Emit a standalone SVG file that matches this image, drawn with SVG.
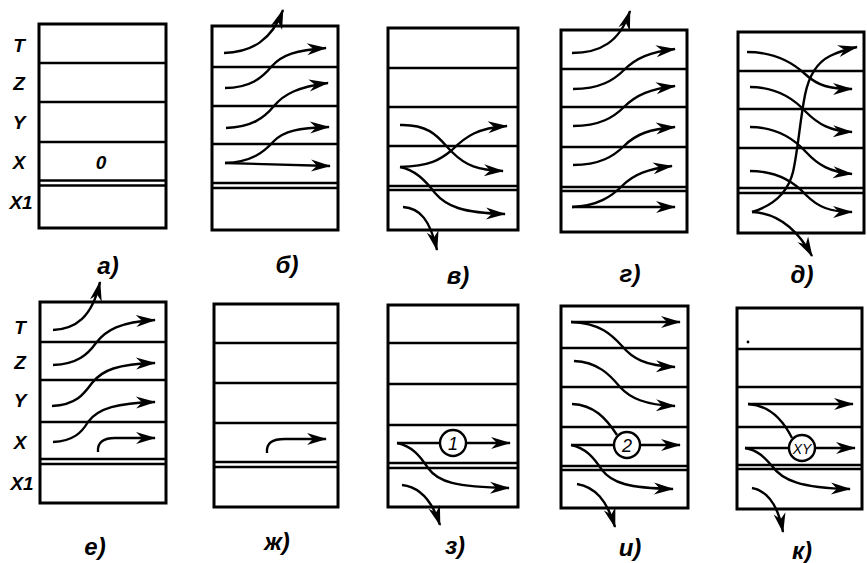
<svg xmlns="http://www.w3.org/2000/svg" width="867" height="563" viewBox="0 0 867 563">
<defs>
<style>
.frame{fill:none;stroke:#000;stroke-width:3}
.ln{stroke:#000;stroke-width:2.6}
.lbl{font-family:"Liberation Sans",Arial,sans-serif;font-style:italic;font-weight:bold;font-size:19px;text-anchor:middle;fill:#000}
.cap{font-family:"Liberation Sans",Arial,sans-serif;font-style:italic;font-weight:bold;font-size:24px;text-anchor:middle;fill:#000}
.num{font-family:"Liberation Sans",Arial,sans-serif;font-style:italic;font-size:18px;text-anchor:middle;fill:#000}
.ar{fill:none;stroke:#000;stroke-width:2.4;marker-end:url(#ah)}
.pl{fill:none;stroke:#000;stroke-width:2.4}
.node{fill:#fff;stroke:#000;stroke-width:2.4}
</style>
<marker id="ah" markerUnits="userSpaceOnUse" viewBox="-20 -7 22 14" markerWidth="22" markerHeight="14" refX="0" refY="0" orient="auto">
<path d="M1,0 L-19,-6 L-13,0 L-19,6 Z" fill="#000"/>
</marker>
</defs>
<rect width="867" height="563" fill="#fff"/>

<g id="panel-a">
<rect class="frame" x="39" y="24" width="127" height="204"/>
<line class="ln" x1="39" y1="63" x2="166" y2="63"/>
<line class="ln" x1="39" y1="102" x2="166" y2="102"/>
<line class="ln" x1="39" y1="142" x2="166" y2="142"/>
<line class="ln" x1="39" y1="180.5" x2="166" y2="180.5"/>
<line class="ln" x1="39" y1="185.5" x2="166" y2="185.5"/>
<text class="lbl" x="19" y="52">T</text>
<text class="lbl" x="19" y="90">Z</text>
<text class="lbl" x="19" y="129">Y</text>
<text class="lbl" x="19" y="169">X</text>
<text class="lbl" x="21" y="209">X1</text>
<text class="lbl" x="101" y="169">0</text>
<text class="cap" x="108" y="274">а)</text>
</g>

<g id="panel-b">
<rect class="frame" x="212" y="26" width="126" height="204"/>
<line class="ln" x1="212" y1="67" x2="338" y2="67"/>
<line class="ln" x1="212" y1="106" x2="338" y2="106"/>
<line class="ln" x1="212" y1="144" x2="338" y2="144"/>
<line class="ln" x1="212" y1="183" x2="338" y2="183"/>
<line class="ln" x1="212" y1="188" x2="338" y2="188"/>
<text class="cap" x="287" y="273">б)</text>
</g>

<g id="panel-v">
<rect class="frame" x="388" y="28" width="130" height="202"/>
<line class="ln" x1="388" y1="68" x2="518" y2="68"/>
<line class="ln" x1="388" y1="107" x2="518" y2="107"/>
<line class="ln" x1="388" y1="146" x2="518" y2="146"/>
<line class="ln" x1="388" y1="186" x2="518" y2="186"/>
<line class="ln" x1="388" y1="190" x2="518" y2="190"/>
<text class="cap" x="458" y="284">в)</text>
</g>

<g id="panel-g">
<rect class="frame" x="561" y="30" width="126" height="202"/>
<line class="ln" x1="561" y1="69" x2="687" y2="69"/>
<line class="ln" x1="561" y1="107" x2="687" y2="107"/>
<line class="ln" x1="561" y1="147" x2="687" y2="147"/>
<line class="ln" x1="561" y1="187" x2="687" y2="187"/>
<line class="ln" x1="561" y1="191" x2="687" y2="191"/>
<text class="cap" x="630" y="282">г)</text>
</g>

<g id="panel-d">
<rect class="frame" x="738" y="32" width="126" height="201"/>
<line class="ln" x1="738" y1="71" x2="864" y2="71"/>
<line class="ln" x1="738" y1="109" x2="864" y2="109"/>
<line class="ln" x1="738" y1="148" x2="864" y2="148"/>
<line class="ln" x1="738" y1="188" x2="864" y2="188"/>
<line class="ln" x1="738" y1="193" x2="864" y2="193"/>
<text class="cap" x="802" y="283">д)</text>
</g>

<g id="panel-e">
<rect class="frame" x="40" y="302" width="126" height="201"/>
<line class="ln" x1="40" y1="342" x2="166" y2="342"/>
<line class="ln" x1="40" y1="380" x2="166" y2="380"/>
<line class="ln" x1="40" y1="422" x2="166" y2="422"/>
<line class="ln" x1="40" y1="459" x2="166" y2="459"/>
<line class="ln" x1="40" y1="464" x2="166" y2="464"/>
<text class="lbl" x="20" y="334">T</text>
<text class="lbl" x="20" y="369">Z</text>
<text class="lbl" x="20" y="407">Y</text>
<text class="lbl" x="20" y="449">X</text>
<text class="lbl" x="22" y="490">X1</text>
<text class="cap" x="95" y="555">е)</text>
</g>

<g id="panel-zh">
<rect class="frame" x="214" y="304" width="124" height="203"/>
<line class="ln" x1="214" y1="343" x2="338" y2="343"/>
<line class="ln" x1="214" y1="383" x2="338" y2="383"/>
<line class="ln" x1="214" y1="423" x2="338" y2="423"/>
<line class="ln" x1="214" y1="462" x2="338" y2="462"/>
<line class="ln" x1="214" y1="467" x2="338" y2="467"/>
<text class="cap" x="277" y="550">ж)</text>
</g>

<g id="panel-z">
<rect class="frame" x="388" y="305" width="130" height="202"/>
<line class="ln" x1="388" y1="343" x2="518" y2="343"/>
<line class="ln" x1="388" y1="384" x2="518" y2="384"/>
<line class="ln" x1="388" y1="425" x2="518" y2="425"/>
<line class="ln" x1="388" y1="463" x2="518" y2="463"/>
<line class="ln" x1="388" y1="468" x2="518" y2="468"/>
<text class="cap" x="455" y="554">з)</text>
</g>

<g id="panel-i">
<rect class="frame" x="561" y="306" width="127" height="202"/>
<line class="ln" x1="561" y1="348" x2="688" y2="348"/>
<line class="ln" x1="561" y1="387" x2="688" y2="387"/>
<line class="ln" x1="561" y1="427" x2="688" y2="427"/>
<line class="ln" x1="561" y1="466" x2="688" y2="466"/>
<line class="ln" x1="561" y1="470" x2="688" y2="470"/>
<text class="cap" x="630" y="556">и)</text>
</g>

<g id="panel-k">
<rect class="frame" x="737" y="308" width="125" height="201"/>
<line class="ln" x1="737" y1="349" x2="862" y2="349"/>
<line class="ln" x1="737" y1="387" x2="862" y2="387"/>
<line class="ln" x1="737" y1="427" x2="862" y2="427"/>
<line class="ln" x1="737" y1="465" x2="862" y2="465"/>
<line class="ln" x1="737" y1="469" x2="862" y2="469"/>
<circle cx="748" cy="342" r="1.4" fill="#000"/>
<text class="cap" x="802" y="559">к)</text>
</g>

<g id="connectors">
<!-- б -->
<path class="ar" d="M224,53 C252,52 272,40 283,10"/>
<path class="ar" d="M225,88 C250,88 262,78 272,66 C282,55 296,50 326,48"/>
<path class="ar" d="M226,128 C252,127 264,118 274,106 C284,94 298,87 328,83"/>
<path class="ar" d="M225,163 C252,162 264,152 274,141 C284,131 298,128 329,127"/>
<path class="ar" d="M225,163 L330,166"/>
<!-- в -->
<path class="ar" d="M400,125 C432,124 440,140 452,152 C466,166 478,170 503,171"/>
<path class="ar" d="M400,167 C430,166 440,160 452,150 C466,136 478,128 507,126"/>
<path class="ar" d="M400,167 C415,170 425,180 435,193 C446,206 462,213 505,214"/>
<path class="ar" d="M403,207 C420,208 430,220 437,250"/>
<!-- г -->
<path class="ar" d="M572,53 C600,53 620,42 630,11"/>
<path class="ar" d="M573,89 C600,89 614,80 624,70 C636,58 650,52 675,49"/>
<path class="ar" d="M573,126 C600,126 614,117 624,107 C636,95 650,89 675,86"/>
<path class="ar" d="M573,165 C600,165 614,156 624,146 C636,134 650,129 675,127"/>
<path class="ar" d="M572,207 C598,206 612,196 622,186 C634,174 648,169 672,166"/>
<path class="ar" d="M572,207 L675,207"/>
<!-- д -->
<path class="ar" d="M747,52 C775,52 792,62 805,74 C818,86 830,89 852,89"/>
<path class="ar" d="M750,87 C778,87 795,100 806,112 C818,124 830,131 852,132"/>
<path class="ar" d="M750,127 C778,127 795,140 806,152 C818,165 830,172 852,174"/>
<path class="ar" d="M750,171 C778,171 795,183 806,195 C818,207 830,212 852,212"/>
<path class="ar" d="M752,212 C775,205 788,192 793,172 C798,150 800,120 805,95 C809,75 818,62 830,56 C840,51 848,49 857,47"/>
<path class="ar" d="M752,212 C775,213 795,225 812,256"/>
<!-- е -->
<path class="ar" d="M53,330 C75,329 92,318 100,282"/>
<path class="ar" d="M53,365 C78,364 88,354 96,343 C106,330 120,322 155,320"/>
<path class="ar" d="M52,406 C76,405 84,394 92,383 C102,370 118,364 155,363"/>
<path class="ar" d="M53,442 C74,441 82,432 88,422 C98,408 118,403 155,402"/>
<path class="ar" d="M98,452 C97,442 104,438 115,438 L155,438"/>
<!-- ж -->
<path class="ar" d="M267,453 C266,443 272,439 285,439 L326,439"/>
<!-- з -->
<path class="pl" d="M397,443 L440,443"/>
<path class="ar" d="M466,443 L510,443"/>
<path class="ar" d="M397,443 C412,446 420,456 428,468 C438,482 455,487 509,488"/>
<path class="ar" d="M402,485 C420,487 432,500 440,525"/>
<!-- и -->
<path class="ar" d="M571,322 L680,322"/>
<path class="ar" d="M571,322 C600,323 612,335 622,346 C632,358 645,366 675,367"/>
<path class="ar" d="M574,361 C598,362 610,375 620,387 C630,398 645,405 675,406"/>
<path class="pl" d="M572,404 C594,405 606,418 617,435"/>
<path class="pl" d="M571,445 L614,445"/>
<path class="ar" d="M640,445 L680,445"/>
<path class="ar" d="M571,445 C586,448 594,458 602,470 C612,483 628,488 673,489"/>
<path class="ar" d="M577,484 C595,487 607,500 615,527"/>
<!-- к -->
<path class="ar" d="M748,404 L853,404"/>
<path class="pl" d="M748,404 C768,405 782,418 792,438"/>
<path class="pl" d="M745,448 L789,448"/>
<path class="ar" d="M815,448 L855,448"/>
<path class="ar" d="M745,448 C758,450 765,458 772,466 C782,480 800,488 850,489"/>
<path class="ar" d="M752,488 C768,491 778,505 783,532"/>
</g>

<g id="node-1">
<circle class="node" cx="453" cy="443" r="13"/>
<text class="num" x="453" y="449.5">1</text>
</g>
<g id="node-2">
<circle class="node" cx="627" cy="445" r="13"/>
<text class="num" x="627" y="451.5">2</text>
</g>
<g id="node-xy">
<circle class="node" cx="802" cy="448" r="13"/>
<text class="num" x="802" y="453.5" style="font-size:14px">XY</text>
</g>
</svg>
